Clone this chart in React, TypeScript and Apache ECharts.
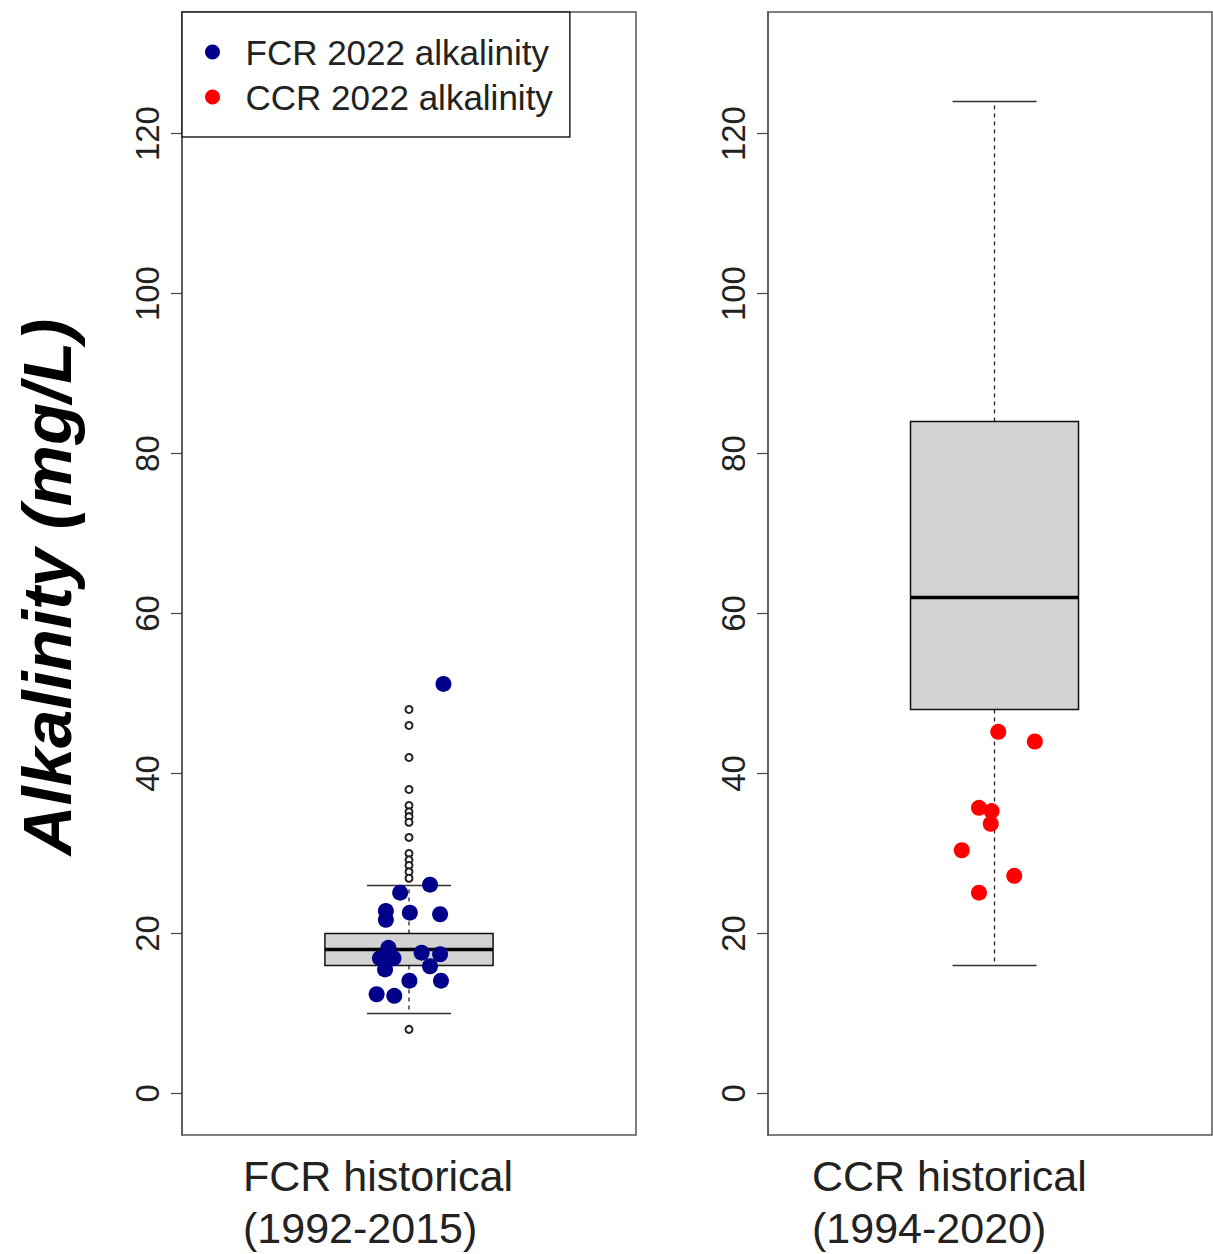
import React, { useEffect, useRef } from "react";
import * as echarts from "echarts";

// ---- data ----
const categories = ["FCR historical\n(1992-2015)", "CCR historical\n(1994-2020)"];
const yTicks = [0, 20, 40, 60, 80, 100, 120];
const yMin = -5.2;
const yMax = 135.2;
// boxplot stats: [min whisker, q1, median, q3, max whisker]
const fcrBox = [10, 16, 18, 20, 26];
const ccrBox = [16, 48, 62, 84, 124];
const fcrOutliers = [48, 46, 42, 38, 36, 35.2, 34.6, 33.9, 32, 30, 29.2, 28.5, 27.7, 26.9, 8];
// 2022 observations (x = jittered position around the box at 1)
const fcr2022X = [1.082, 1.05, 0.979, 0.945, 0.945, 1.002, 1.074, 0.951, 0.931, 0.963, 0.943, 1.03, 1.074, 1.05, 1.001, 1.076, 0.923, 0.965];
const fcr2022Y = [51.2, 26.1, 25.1, 22.8, 21.7, 22.6, 22.4, 18.2, 16.9, 16.9, 15.5, 17.6, 17.4, 15.9, 14.1, 14.1, 12.4, 12.2];
const ccr2022X = [1.009, 1.096, 0.963, 0.993, 0.991, 0.922, 1.047, 0.963];
const ccr2022Y = [45.2, 44.0, 35.7, 35.3, 33.7, 30.4, 27.2, 25.1];
const seriesNames = ["FCR 2022 alkalinity", "CCR 2022 alkalinity"];

const FONT = "'Liberation Sans', Arial, sans-serif";

function boxRender(params: any, api: any) {
  const x = api.value(0);
  const lo = api.value(1);
  const q1 = api.value(2);
  const med = api.value(3);
  const q3 = api.value(4);
  const hi = api.value(5);
  const pLo = api.coord([x, lo]);
  const pQ1 = api.coord([x, q1]);
  const pMed = api.coord([x, med]);
  const pQ3 = api.coord([x, q3]);
  const pHi = api.coord([x, hi]);
  const halfBox = api.size([0.2, 0])[0];
  const halfCap = api.size([0.1, 0])[0];
  const cx = pMed[0];
  const dashStyle = { stroke: "#222", lineWidth: 1.3, lineDash: [4, 4] };
  const capStyle = { stroke: "#333", lineWidth: 1.5 };
  return {
    type: "group",
    children: [
      { type: "line", shape: { x1: cx, y1: pQ3[1], x2: cx, y2: pHi[1] }, style: dashStyle },
      { type: "line", shape: { x1: cx, y1: pQ1[1], x2: cx, y2: pLo[1] }, style: dashStyle },
      { type: "line", shape: { x1: cx - halfCap, y1: pHi[1], x2: cx + halfCap, y2: pHi[1] }, style: capStyle },
      { type: "line", shape: { x1: cx - halfCap, y1: pLo[1], x2: cx + halfCap, y2: pLo[1] }, style: capStyle },
      {
        type: "rect",
        shape: { x: cx - halfBox, y: pQ3[1], width: halfBox * 2, height: pQ1[1] - pQ3[1] },
        style: { fill: "#d3d3d3", stroke: "#111", lineWidth: 1.5 },
      },
      { type: "line", shape: { x1: cx - halfBox, y1: pMed[1], x2: cx + halfBox, y2: pMed[1] }, style: { stroke: "#000", lineWidth: 3.5 } },
    ],
  };
}

function makeYAxis(gridIndex: number) {
  return {
    type: "value",
    gridIndex,
    min: yMin,
    max: yMax,
    splitLine: { show: false },
    axisLine: { show: true, lineStyle: { color: "#555", width: 1.5 } },
    axisTick: { show: true, customValues: yTicks, length: 11, inside: false, lineStyle: { color: "#444", width: 1.2 } },
    axisLabel: {
      show: true,
      customValues: yTicks,
      rotate: 90,
      margin: 18,
      fontSize: 33,
      color: "#222",
      fontFamily: FONT,
    },
  };
}

function makeXAxis(gridIndex: number, min: number, max: number) {
  return {
    type: "value",
    gridIndex,
    min,
    max,
    axisLine: { show: false },
    axisTick: { show: false },
    axisLabel: { show: false },
    splitLine: { show: false },
  };
}

export default function App() {
  const ref = useRef<HTMLDivElement>(null);
  useEffect(() => {
    if (!ref.current) return;
    const chart = echarts.init(ref.current, null, { renderer: "svg" });
    const gridStyle = { show: true, borderColor: "#555", borderWidth: 1.5, backgroundColor: "transparent" };
    chart.setOption({
      animation: false,
      backgroundColor: "#fff",
      grid: [
        { left: 182, top: 12, width: 454, height: 1123, ...gridStyle },
        { left: 768, top: 12, width: 444, height: 1123, ...gridStyle },
      ],
      xAxis: [makeXAxis(0, 0.46, 1.54), makeXAxis(1, 0.4607, 1.5178)],
      yAxis: [makeYAxis(0), makeYAxis(1)],
      legend: {
        data: seriesNames,
        orient: "vertical",
        left: 182,
        top: 12,
        icon: "circle",
        itemWidth: 56,
        itemHeight: 15,
        itemGap: 5,
        padding: [20, 17, 20, 23],
        borderColor: "#222",
        borderWidth: 1.5,
        backgroundColor: "#fff",
        selectedMode: false,
        textStyle: { fontSize: 35, lineHeight: 40, color: "#222", fontFamily: FONT },
      },
      graphic: [
        {
          type: "text",
          x: 47,
          y: 587,
          rotation: Math.PI / 2,
          style: {
            text: "Alkalinity (mg/L)",
            fontSize: 69,
            fontWeight: "bold",
            fontStyle: "italic",
            fontFamily: FONT,
            fill: "#000",
            align: "center",
            verticalAlign: "middle",
          },
        },
        {
          type: "text",
          x: 243,
          y: 1150,
          style: { text: categories[0], fontSize: 43, lineHeight: 52, fontFamily: FONT, fill: "#222", align: "left", verticalAlign: "top" },
        },
        {
          type: "text",
          x: 812,
          y: 1150,
          style: { text: categories[1], fontSize: 43, lineHeight: 52, fontFamily: FONT, fill: "#222", align: "left", verticalAlign: "top" },
        },
      ],
      series: [
        {
          type: "custom",
          xAxisIndex: 0,
          yAxisIndex: 0,
          renderItem: boxRender,
          data: [[1, ...fcrBox]],
          z: 1,
          silent: true,
        },
        {
          type: "custom",
          xAxisIndex: 1,
          yAxisIndex: 1,
          renderItem: boxRender,
          data: [[1, ...ccrBox]],
          z: 1,
          silent: true,
        },
        {
          type: "scatter",
          name: "outliers",
          xAxisIndex: 0,
          yAxisIndex: 0,
          symbol: "emptyCircle",
          symbolSize: 7,
          itemStyle: { color: "#222", borderColor: "#222", borderWidth: 1, opacity: 1 },
          data: fcrOutliers.map((v) => [1, v]),
          z: 2,
        },
        {
          type: "scatter",
          name: seriesNames[0],
          xAxisIndex: 0,
          yAxisIndex: 0,
          symbol: "circle",
          symbolSize: 16,
          itemStyle: { color: "#00008b", opacity: 1 },
          data: fcr2022X.map((x, i) => [x, fcr2022Y[i]]),
          z: 3,
        },
        {
          type: "scatter",
          name: seriesNames[1],
          xAxisIndex: 1,
          yAxisIndex: 1,
          symbol: "circle",
          symbolSize: 16,
          itemStyle: { color: "#ff0000", opacity: 1 },
          data: ccr2022X.map((x, i) => [x, ccr2022Y[i]]),
          z: 3,
        },
      ],
    });
    return () => chart.dispose();
  }, []);
  return <div ref={ref} style={{ position: "absolute", left: 0, top: 0, width: 1213, height: 1254 }} />;
}
